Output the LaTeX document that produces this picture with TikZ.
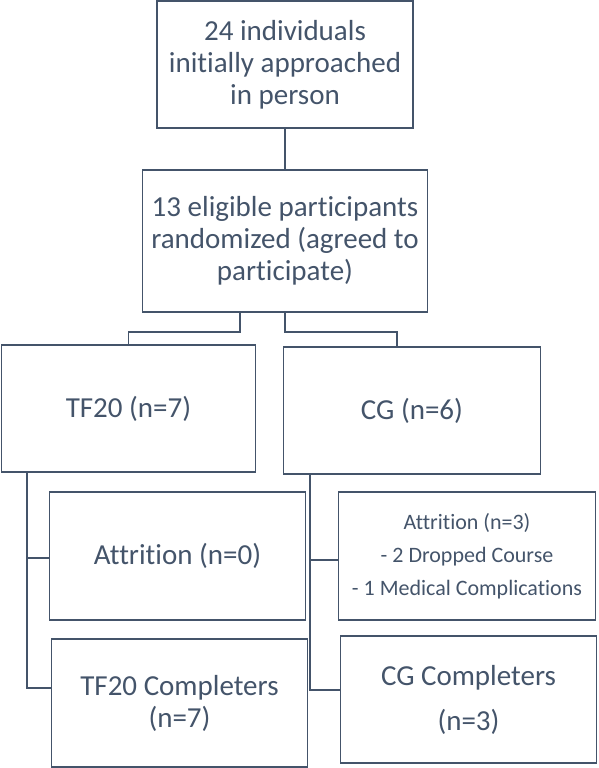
\documentclass[tikz,border=0pt]{standalone}
\usepackage{fontspec}
\setmainfont{Carlito}[Ligatures=NoCommon]
\usetikzlibrary{positioning}
\definecolor{slate}{HTML}{44546A}

\begin{document}
\begin{tikzpicture}[x=1pt,y=-1pt,on grid,
    box/.style={draw=slate,line width=1.8pt,text=slate,align=center,inner sep=0pt,
        minimum width=256pt,minimum height=127pt,font=\fontsize{29}{32}\selectfont},
    link/.style={draw=slate,line width=1.8pt}]
    \useasboundingbox (0,0) rectangle (598,768);
    %% 上面
    \node[box] (n24) at (285,64.5) {24 individuals\\initially approached\\in person};
    \node[box,below=176.5pt of n24,minimum width=285pt,minimum height=142pt] (n13)
        {13 eligible participants\\randomized (agreed to\\participate)};
    %% 两组
    \node[box,below left =167.5pt and 156.5pt of n13,minimum width=254pt] (tf) {TF20 (n=7)};
    \node[box,below right=169.5pt and 127pt of n13,minimum width=257pt] (cg) {CG (n=6)};
    \node[box,below right=147.5pt and 49pt of tf,minimum height=128pt] (attL) {Attrition (n=0)};
    \node[box,below right=147pt and 2pt of attL,minimum height=128pt] (compL) {TF20 Completers\\(n=7)};
    \node[box,below right=145.5pt and 55pt of cg,minimum width=257pt,minimum height=128pt,
        font=\fontsize{22}{33}\selectfont] (attR)
        {Attrition (n=3)\\- 2 Dropped Course\\- 1 Medical Complications};
    \node[box,below right=143.5pt and 1.5pt of attR,font=\fontsize{29}{45}\selectfont] (compR)
        {CG Completers\\(n=3)};
    % 连线
    \coordinate (jl) at (240,332);
    \coordinate (jr) at (397,332);
    \coordinate (la) at (27,558);
    \coordinate (lc) at (27,688);
    \coordinate (ra) at (310,560);
    \coordinate (rc) at (310,690);
    \draw[link] (n24) -- (n13);
    \draw[link] (n13.south -| jl) -- (jl) -| (tf.north);
    \draw[link] (n13.south) |- (jr) -- (jr |- cg.north);
    \draw[link] (tf.south -| la) -- (lc) -- (lc -| compL.west);
    \draw[link] (la) -- (la -| attL.west);
    \draw[link] (cg.south -| ra) -- (rc) -- (rc -| compR.west);
    \draw[link] (ra) -- (ra -| attR.west);
\end{tikzpicture}
\end{document}
